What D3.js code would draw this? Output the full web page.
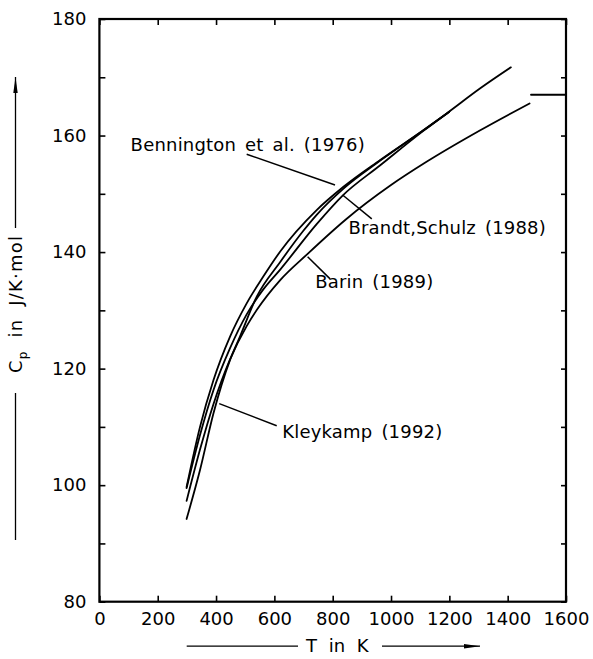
<!DOCTYPE html>
<html>
<head>
<meta charset="utf-8">
<script src="https://cdn.jsdelivr.net/npm/d3@7"></script>
<style>
  html, body { margin: 0; padding: 0; background: #fff; }
  svg { display: block; font-family: "DejaVu Sans", sans-serif; }
  .axis path { display: none; }
  .axis line { stroke: #000; stroke-width: 1.6; }
  .axis text { fill: #000; font-size: 18px; font-family: "DejaVu Sans", sans-serif; }
</style>
</head>
<body>
<div id="chart"></div>
<script>
// Heat capacity curves, [T in K, Cp in J/K.mol]
const bennington = [[299,99.7],[345,110.0],[391,118.0],[448,125.5],[505,131.2],[562,135.8],[620,140.1],[745,147.2],[837,151.2],[963,155.8],[1111,160.9],[1200,164.1]];
const brandtSchulz = [[299,99.5],[345,108.6],[391,116.3],[448,123.5],[505,129.3],[562,133.6],[620,137.0],[745,144.8],[834,149.7],[963,154.9],[1111,160.8],[1200,164.1]];
const barin = [[299,97.3],[345,106.1],[391,113.9],[448,121.6],[505,127.3],[540,130.1],[620,135.2],[714,139.7],[845,145.6],[1000,151.5],[1119,155.4],[1306,160.9],[1475,165.5]];
const barinHigh = [[1480,167.0],[1600,167.0]];
const kleykamp = [[299,94.2],[345,102.6],[391,112.3],[448,121.5],[482,125.5],[540,132.4],[620,138.3],[700,143.7],[745,146.4],[837,150.9],[963,155.7],[1111,160.9],[1191,163.8],[1306,168.1],[1411,171.7]];

const xTicks = [0, 200, 400, 600, 800, 1000, 1200, 1400, 1600];
const yTicks = [80, 90, 100, 110, 120, 130, 140, 150, 160, 170, 180];
const yLabelTicks = [80, 100, 120, 140, 160, 180];

// label text, text anchor point, leader start -> leader end (data units)
const labels = [
  { text: "Bennington et al. (1976)", at: [107, 157.3], from: [505, 156.8], to: [808, 151.5] },
  { text: "Brandt,Schulz (1988)", at: [854, 143.1], from: [834, 149.8], to: [934, 145.7] },
  { text: "Barin (1989)", at: [740, 133.8], from: [714, 139.2], to: [791, 135.4] },
  { text: "Kleykamp (1992)", at: [627, 108.1], from: [411, 114.0], to: [608, 110.2] }
];

const W = 593, H = 659;
const margin = { top: 19, right: 27, bottom: 57.3, left: 99.4 };
const x0 = margin.left, x1 = W - margin.right;
const y0 = H - margin.bottom, y1 = margin.top;

const svg = d3.select("#chart").append("svg").attr("width", W).attr("height", H);

const x = d3.scaleLinear().domain([0, 1600]).range([x0, x1]);
const y = d3.scaleLinear().domain([80, 180]).range([y0, y1]);

// axes, ticks pointing inward
svg.append("g").attr("class", "axis").attr("transform", `translate(0,${y0})`)
  .call(d3.axisBottom(x).tickValues(xTicks).tickSize(-6).tickPadding(11).tickFormat(d3.format("d")));
svg.append("g").attr("class", "axis").attr("transform", `translate(0,${y1})`)
  .call(d3.axisTop(x).tickValues(xTicks).tickSize(-6).tickFormat(""));
svg.append("g").attr("class", "axis").attr("transform", `translate(${x0},0)`)
  .call(d3.axisLeft(y).tickValues(yTicks).tickSize(-6).tickPadding(13)
    .tickFormat(d => yLabelTicks.includes(d) ? d : ""));
svg.append("g").attr("class", "axis").attr("transform", `translate(${x1},0)`)
  .call(d3.axisRight(y).tickValues(yTicks).tickSize(-5).tickFormat(""));

svg.append("rect").attr("x", x0).attr("y", y1).attr("width", x1 - x0).attr("height", y0 - y1)
  .attr("fill", "none").attr("stroke", "#000").attr("stroke-width", 2.2);

// curves
const line = d3.line().x(d => x(d[0])).y(d => y(d[1])).curve(d3.curveMonotoneX);
const series = [bennington, brandtSchulz, barin, barinHigh, kleykamp];
svg.append("g").selectAll("path").data(series).enter().append("path")
  .attr("d", line).attr("fill", "none").attr("stroke", "#000")
  .attr("stroke-width", 1.8).attr("stroke-linecap", "round");

// leaders and labels
svg.append("g").selectAll("line").data(labels).enter().append("line")
  .attr("x1", d => x(d.from[0])).attr("y1", d => y(d.from[1]))
  .attr("x2", d => x(d.to[0])).attr("y2", d => y(d.to[1]))
  .attr("stroke", "#000").attr("stroke-width", 1.5);
svg.append("g").selectAll("text").data(labels).enter().append("text")
  .attr("x", d => x(d.at[0])).attr("y", d => y(d.at[1]))
  .style("font-size", "18px").style("letter-spacing", "0.2px").style("word-spacing", "3px")
  .text(d => d.text);

// arrowhead marker
svg.append("defs").append("marker").attr("id", "arrow")
  .attr("viewBox", "0 0 16 6").attr("refX", 16).attr("refY", 3)
  .attr("markerWidth", 16).attr("markerHeight", 6).attr("markerUnits", "userSpaceOnUse")
  .attr("orient", "auto")
  .append("path").attr("d", "M0,0.8 L16,3 L0,5.2 Z").attr("fill", "#000");

// x title
const xt = H - 7.3;
svg.append("line").attr("x1", 186.7).attr("x2", 298).attr("y1", xt - 5.5).attr("y2", xt - 5.5)
  .attr("stroke", "#000").attr("stroke-width", 1.3);
svg.append("line").attr("x1", 382).attr("x2", 480).attr("y1", xt - 5.5).attr("y2", xt - 5.5)
  .attr("stroke", "#000").attr("stroke-width", 1.3).attr("marker-end", "url(#arrow)");
svg.append("text").attr("x", 306).attr("y", xt)
  .style("font-size", "18px").style("word-spacing", "6px").text("T in K");

// y title
const yt = svg.append("text").attr("transform", "translate(21.5,373) rotate(-90)")
  .style("font-size", "18px").style("letter-spacing", "1.2px").style("word-spacing", "6px");
yt.append("tspan").text("C");
yt.append("tspan").attr("dy", 5).style("font-size", "12px").text("p");
yt.append("tspan").attr("dy", -5).text(" in J/K·mol");
svg.append("line").attr("x1", 15.5).attr("x2", 15.5).attr("y1", 540).attr("y2", 393)
  .attr("stroke", "#000").attr("stroke-width", 1.3);
svg.append("line").attr("x1", 15.5).attr("x2", 15.5).attr("y1", 228).attr("y2", 77)
  .attr("stroke", "#000").attr("stroke-width", 1.3).attr("marker-end", "url(#arrow)");
</script>
</body>
</html>
